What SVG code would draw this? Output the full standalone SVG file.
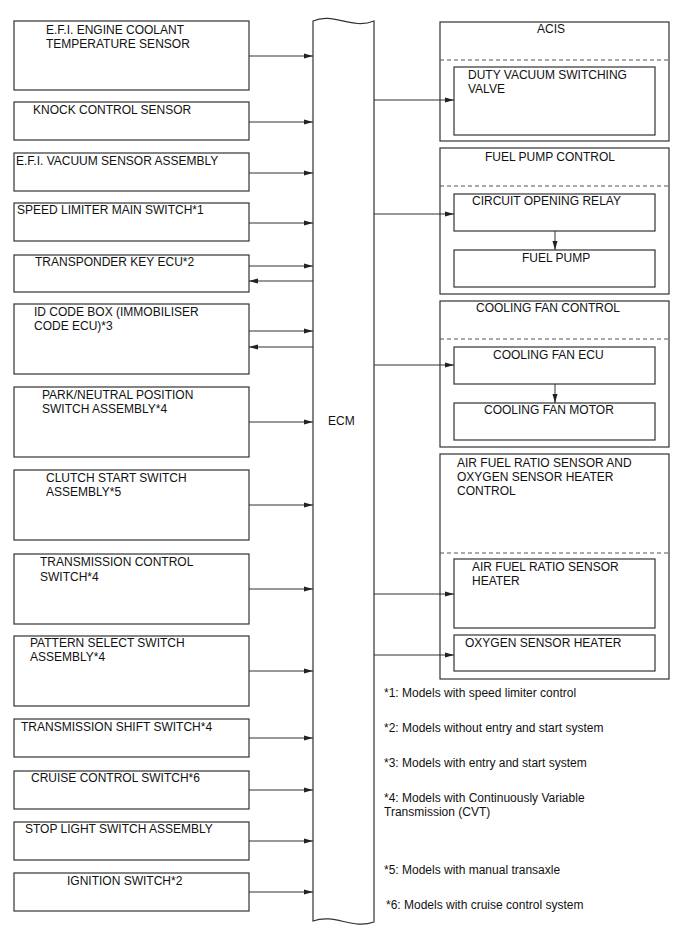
<svg xmlns="http://www.w3.org/2000/svg" width="688" height="949" viewBox="0 0 688 949">
<style>
.b{fill:#fff;stroke:#333;stroke-width:1.2}
.t{font-family:"Liberation Sans",Arial,sans-serif;font-size:12px;fill:#111}
.c{fill:none;stroke:#333;stroke-width:1}
.d{fill:none;stroke:#555;stroke-width:1;stroke-dasharray:4,3}
</style>
<defs>
<marker id="ah" markerWidth="9" markerHeight="6" refX="9" refY="3" orient="auto" markerUnits="userSpaceOnUse">
<path d="M0,0.5 L9,3 L0,5.5 Z" fill="#222"/>
</marker>
</defs>
<rect width="688" height="949" fill="#fff"/>

<g id="ecm">
<path class="b" d="M313,21 C333,12 352,30 374,21 L374,922 C352,930 335,913 313,921 Z"/>
<text class="t" x="328" y="425">ECM</text>
</g>

<g id="n1"><rect class="b" x="14" y="21" width="235" height="69"/><text class="t" x="46" y="34">E.F.I. ENGINE COOLANT</text><text class="t" x="46" y="47.5">TEMPERATURE SENSOR</text></g>
<g id="n2"><rect class="b" x="14" y="102" width="235" height="38"/><text class="t" x="33" y="114">KNOCK CONTROL SENSOR</text></g>
<g id="n3"><rect class="b" x="14" y="153" width="235" height="38"/><text class="t" x="16" y="165">E.F.I. VACUUM SENSOR ASSEMBLY</text></g>
<g id="n4"><rect class="b" x="14" y="203" width="235" height="38"/><text class="t" x="17" y="214">SPEED LIMITER MAIN SWITCH*1</text></g>
<g id="n5"><rect class="b" x="14" y="255" width="235" height="37"/><text class="t" x="35" y="266">TRANSPONDER KEY ECU*2</text></g>
<g id="n6"><rect class="b" x="14" y="304" width="235" height="70"/><text class="t" x="34" y="316">ID CODE BOX (IMMOBILISER</text><text class="t" x="34" y="329.5">CODE ECU)*3</text></g>
<g id="n7"><rect class="b" x="14" y="387" width="235" height="70"/><text class="t" x="42" y="399">PARK/NEUTRAL POSITION</text><text class="t" x="42" y="412.5">SWITCH ASSEMBLY*4</text></g>
<g id="n8"><rect class="b" x="14" y="470" width="235" height="70"/><text class="t" x="46" y="482">CLUTCH START SWITCH</text><text class="t" x="46" y="495.5">ASSEMBLY*5</text></g>
<g id="n9"><rect class="b" x="14" y="554" width="235" height="70"/><text class="t" x="40" y="566">TRANSMISSION CONTROL</text><text class="t" x="40" y="580.5">SWITCH*4</text></g>
<g id="n10"><rect class="b" x="14" y="636" width="235" height="70"/><text class="t" x="30" y="647">PATTERN SELECT SWITCH</text><text class="t" x="30" y="661">ASSEMBLY*4</text></g>
<g id="n11"><rect class="b" x="14" y="719" width="235" height="38"/><text class="t" x="21" y="731">TRANSMISSION SHIFT SWITCH*4</text></g>
<g id="n12"><rect class="b" x="14" y="771" width="235" height="38"/><text class="t" x="31" y="782">CRUISE CONTROL SWITCH*6</text></g>
<g id="n13"><rect class="b" x="14" y="822" width="235" height="38"/><text class="t" x="25" y="833">STOP LIGHT SWITCH ASSEMBLY</text></g>
<g id="n14"><rect class="b" x="14" y="873" width="235" height="38"/><text class="t" x="67" y="885">IGNITION SWITCH*2</text></g>

<g id="acis">
<rect class="b" x="440" y="22" width="229" height="119"/>
<text class="t" x="537" y="33">ACIS</text>
<line class="d" x1="440" y1="60" x2="669" y2="60"/>
<g id="dvsv"><rect class="b" x="454" y="67" width="201" height="68"/><text class="t" x="468" y="79">DUTY VACUUM SWITCHING</text><text class="t" x="468" y="93">VALVE</text></g>
</g>
<g id="fpc">
<rect class="b" x="440" y="148" width="229" height="146"/>
<text class="t" x="485" y="161">FUEL PUMP CONTROL</text>
<line class="d" x1="440" y1="186" x2="669" y2="186"/>
<g id="cor"><rect class="b" x="454" y="194" width="201" height="37"/><text class="t" x="472" y="205">CIRCUIT OPENING RELAY</text></g>
<g id="fp"><rect class="b" x="454" y="250" width="201" height="37"/><text class="t" x="522" y="262">FUEL PUMP</text></g>
</g>
<g id="cfc">
<rect class="b" x="440" y="301" width="229" height="146"/>
<text class="t" x="476" y="312">COOLING FAN CONTROL</text>
<line class="d" x1="440" y1="339" x2="669" y2="339"/>
<g id="cfecu"><rect class="b" x="454" y="347" width="201" height="37"/><text class="t" x="493" y="359">COOLING FAN ECU</text></g>
<g id="cfm"><rect class="b" x="454" y="403" width="201" height="37"/><text class="t" x="484" y="414">COOLING FAN MOTOR</text></g>
</g>
<g id="afr">
<rect class="b" x="440" y="454" width="229" height="225"/>
<text class="t" x="457" y="467">AIR FUEL RATIO SENSOR AND</text>
<text class="t" x="457" y="481">OXYGEN SENSOR HEATER</text>
<text class="t" x="457" y="494.5">CONTROL</text>
<line class="d" x1="440" y1="553" x2="669" y2="553"/>
<g id="afrh"><rect class="b" x="454" y="559" width="201" height="69"/><text class="t" x="472" y="571">AIR FUEL RATIO SENSOR</text><text class="t" x="472" y="585">HEATER</text></g>
<g id="osh"><rect class="b" x="454" y="635" width="201" height="36"/><text class="t" x="465" y="647">OXYGEN SENSOR HEATER</text></g>
</g>

<g id="connectors">
<line class="c" x1="249" y1="56" x2="313" y2="56" marker-end="url(#ah)"/>
<line class="c" x1="249" y1="122" x2="313" y2="122" marker-end="url(#ah)"/>
<line class="c" x1="249" y1="173" x2="313" y2="173" marker-end="url(#ah)"/>
<line class="c" x1="249" y1="223" x2="313" y2="223" marker-end="url(#ah)"/>
<line class="c" x1="249" y1="266" x2="313" y2="266" marker-end="url(#ah)"/>
<line class="c" x1="313" y1="281" x2="249" y2="281" marker-end="url(#ah)"/>
<line class="c" x1="249" y1="331" x2="313" y2="331" marker-end="url(#ah)"/>
<line class="c" x1="313" y1="347" x2="249" y2="347" marker-end="url(#ah)"/>
<line class="c" x1="249" y1="422" x2="313" y2="422" marker-end="url(#ah)"/>
<line class="c" x1="249" y1="505" x2="313" y2="505" marker-end="url(#ah)"/>
<line class="c" x1="249" y1="589" x2="313" y2="589" marker-end="url(#ah)"/>
<line class="c" x1="249" y1="671" x2="313" y2="671" marker-end="url(#ah)"/>
<line class="c" x1="249" y1="738" x2="313" y2="738" marker-end="url(#ah)"/>
<line class="c" x1="249" y1="790" x2="313" y2="790" marker-end="url(#ah)"/>
<line class="c" x1="249" y1="841" x2="313" y2="841" marker-end="url(#ah)"/>
<line class="c" x1="249" y1="892" x2="313" y2="892" marker-end="url(#ah)"/>
<line class="c" x1="374" y1="100" x2="454" y2="100" marker-end="url(#ah)"/>
<line class="c" x1="374" y1="214" x2="454" y2="214" marker-end="url(#ah)"/>
<line class="c" x1="374" y1="365" x2="454" y2="365" marker-end="url(#ah)"/>
<line class="c" x1="374" y1="594" x2="454" y2="594" marker-end="url(#ah)"/>
<line class="c" x1="374" y1="655" x2="454" y2="655" marker-end="url(#ah)"/>
<line class="c" x1="555" y1="231" x2="555" y2="250" marker-end="url(#ah)"/>
<line class="c" x1="555" y1="384" x2="555" y2="403" marker-end="url(#ah)"/>
</g>

<g id="notes">
<text class="t" x="384" y="697">*1: Models with speed limiter control</text>
<text class="t" x="384" y="732">*2: Models without entry and start system</text>
<text class="t" x="384" y="767">*3: Models with entry and start system</text>
<text class="t" x="384" y="802">*4: Models with Continuously Variable</text>
<text class="t" x="384" y="816">Transmission (CVT)</text>
<text class="t" x="384" y="874">*5: Models with manual transaxle</text>
<text class="t" x="386" y="909">*6: Models with cruise control system</text>
</g>
</svg>
